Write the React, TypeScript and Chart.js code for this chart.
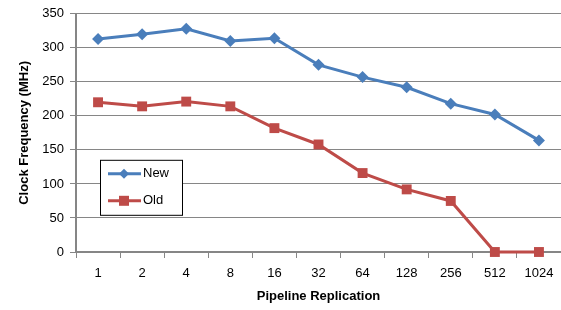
import React, { useEffect, useRef } from "react";
import { Chart, registerables } from "chart.js";

Chart.register(...registerables);

const categories = ["1", "2", "4", "8", "16", "32", "64", "128", "256", "512", "1024"];
const newValues = [313, 320, 328, 310, 314, 275, 257, 242, 218, 202, 164];
const oldValues = [220, 214, 221, 214, 182, 158, 116, 92, 75, 0, 0];
const seriesNames = ["New", "Old"];

const BLUE = "#4A7EBB";
const RED = "#BE4B48";
const FONT = "'Liberation Sans', Arial, sans-serif";

const legendPlugin = {
  id: "boxLegend",
  afterDraw(chart: any) {
    const ctx = chart.ctx;
    const area = chart.chartArea;
    const x0 = area.left + 24;
    const y0 = area.top + 146;
    const w = 82;
    const h = 55;
    ctx.save();
    ctx.fillStyle = "#fff";
    ctx.fillRect(x0, y0, w, h);
    ctx.strokeStyle = "#000";
    ctx.lineWidth = 1;
    ctx.strokeRect(x0 + 0.5, y0 + 0.5, w, h);
    const rows = [
      { name: seriesNames[0], color: BLUE, style: "diamond", y: y0 + 14 },
      { name: seriesNames[1], color: RED, style: "square", y: y0 + 41 },
    ];
    rows.forEach((r) => {
      ctx.strokeStyle = r.color;
      ctx.lineWidth = 3;
      ctx.beginPath();
      ctx.moveTo(x0 + 8, r.y);
      ctx.lineTo(x0 + 41, r.y);
      ctx.stroke();
      ctx.fillStyle = r.color;
      const cx = x0 + 24;
      if (r.style === "diamond") {
        ctx.beginPath();
        ctx.moveTo(cx, r.y - 5);
        ctx.lineTo(cx + 5, r.y);
        ctx.lineTo(cx, r.y + 5);
        ctx.lineTo(cx - 5, r.y);
        ctx.closePath();
        ctx.fill();
      } else {
        ctx.fillRect(cx - 5, r.y - 5, 10, 10);
      }
      ctx.fillStyle = "#000";
      ctx.font = `13px ${FONT}`;
      ctx.textBaseline = "middle";
      ctx.textAlign = "left";
      ctx.fillText(r.name, x0 + 43, r.y);
    });
    ctx.restore();
  },
};

export default function App() {
  const ref = useRef<HTMLCanvasElement | null>(null);
  useEffect(() => {
    if (!ref.current) return;
    const chart = new Chart(ref.current, {
      type: "line",
      data: {
        labels: categories,
        datasets: [
          {
            label: seriesNames[0],
            data: newValues,
            borderColor: BLUE,
            backgroundColor: BLUE,
            borderWidth: 3,
            pointStyle: "rectRot",
            pointRadius: 6,
            pointBorderWidth: 0,
            tension: 0,
            clip: false,
          },
          {
            label: seriesNames[1],
            data: oldValues,
            borderColor: RED,
            backgroundColor: RED,
            borderWidth: 3,
            pointStyle: "rect",
            pointRadius: 7,
            pointBorderWidth: 0,
            tension: 0,
            clip: false,
          },
        ],
      },
      options: {
        animation: false,
        responsive: false,
        maintainAspectRatio: false,
        layout: { autoPadding: false, padding: { top: 11, right: 0, left: 0, bottom: 0 } },
        plugins: { legend: { display: false }, tooltip: { enabled: false } },
        scales: {
          x: {
            offset: true,
            grid: {
              offset: true,
              drawOnChartArea: false,
              drawTicks: true,
              tickLength: 6,
              color: "#868686",
            },
            border: { color: "#868686", width: 2 },
            ticks: { color: "#000", font: { family: FONT, size: 13 }, padding: 8, maxRotation: 0 },
            title: {
              display: true,
              text: "Pipeline Replication",
              color: "#000",
              font: { family: FONT, size: 13, weight: "bold" },
              padding: { top: 4, bottom: 6 },
            },
            afterFit(scale: any) {
              scale.height = 58;
              scale.paddingLeft = 0;
              scale.paddingRight = 0;
            },
          },
          y: {
            min: 0,
            max: 350,
            ticks: { stepSize: 50, color: "#000", font: { family: FONT, size: 13 }, padding: 6 },
            grid: { color: "#868686", lineWidth: 1, tickLength: 6 },
            border: { color: "#868686", width: 2 },
            title: {
              display: true,
              text: "Clock Frequency (MHz)",
              color: "#000",
              font: { family: FONT, size: 13, weight: "bold" },
              padding: { top: 17, bottom: 0 },
            },
            afterFit(scale: any) {
              scale.width = 76;
            },
          },
        },
      },
      plugins: [legendPlugin],
    });
    return () => chart.destroy();
  }, []);
  return (
    <div style={{ position: "fixed", left: 0, top: 0, width: 561, height: 310, background: "#fff" }}>
      <canvas ref={ref} width={561} height={310} style={{ display: "block" }} />
    </div>
  );
}
